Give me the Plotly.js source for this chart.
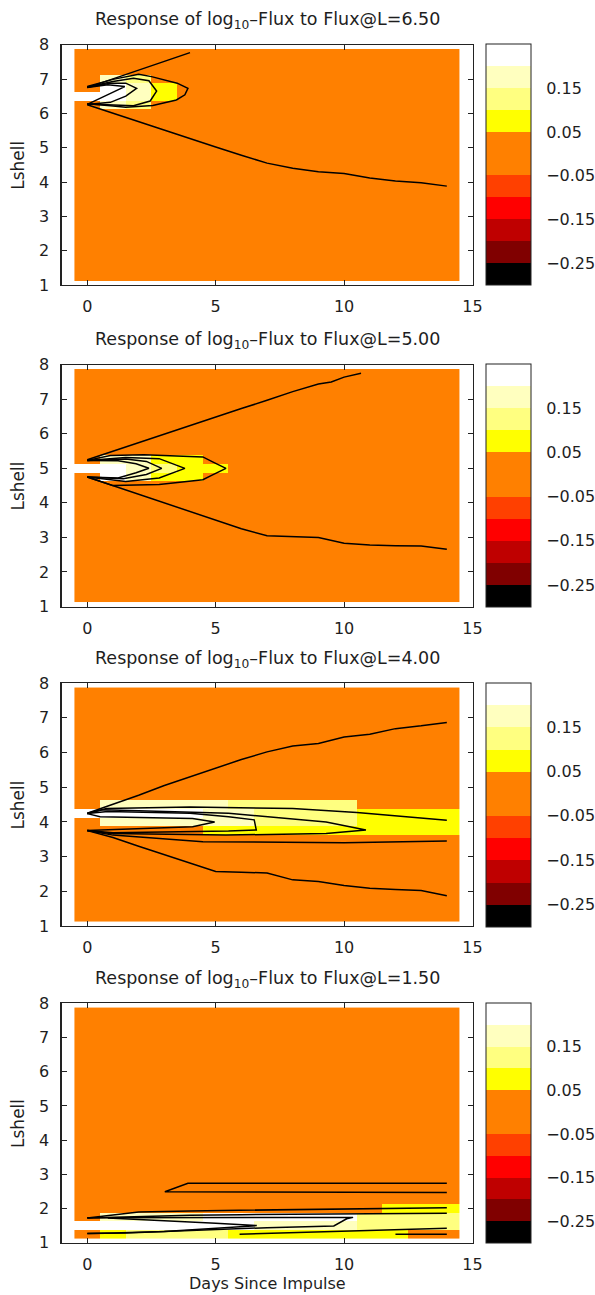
<!DOCTYPE html>
<html><head><meta charset="utf-8">
<script src="https://cdn.plot.ly/plotly-3.0.1.min.js"></script>
<style>html,body{margin:0;padding:0;background:#fff}</style>
</head><body><div id="chart" style="width:595px;height:1295px"></div>
<script>
// ---------------- DATA ----------------
const DAYS = [0,1,2,3,4,5,6,7,8,9,10,11,12,13,14];
const LSHELL = [1.25,1.5,1.75,2.0,2.25,2.5,2.75,3.0,3.25,3.5,3.75,4.0,4.25,4.5,4.75,5.0,5.25,5.5,5.75,6.0,6.25,6.5,6.75,7.0,7.25,7.5,7.75];
const IMPULSE_L = ['6.50','5.00','4.00','1.50'];
// colour levels (band centres) used in the grids below
const LEVEL_CODES = {o:0.0, y:0.075, l:0.125, c:0.175, w:0.225};
const CB_TICKVALS = [0.15,0.05,-0.05,-0.15,-0.25];
const CB_TICKTEXT = ['0.15','0.05','\u22120.05','\u22120.15','\u22120.25'];
const BAND_COLORS = ['#000000','#800000','#bf0000','#ff0000','#ff4000','#ff8000','#ff8000','#ffff00','#ffff80','#ffffbf','#ffffff'];

// grids: rows listed from L=7.75 (top) down to L=1.25 (bottom); columns = days 0..14
const p1Grid = [
'ooooooooooooooo','ooooooooooooooo','ooooooooooooooo',
'ocloooooooooooo', // 7.00
'owcyooooooooooo', // 6.75
'wwcyooooooooooo', // 6.50
'ocloooooooooooo', // 6.25
'ooooooooooooooo','ooooooooooooooo','ooooooooooooooo','ooooooooooooooo',
'ooooooooooooooo','ooooooooooooooo','ooooooooooooooo','ooooooooooooooo',
'ooooooooooooooo','ooooooooooooooo','ooooooooooooooo','ooooooooooooooo',
'ooooooooooooooo','ooooooooooooooo','ooooooooooooooo','ooooooooooooooo',
'ooooooooooooooo','ooooooooooooooo','ooooooooooooooo','ooooooooooooooo'];
const p2Grid = [
'ooooooooooooooo','ooooooooooooooo','ooooooooooooooo','ooooooooooooooo',
'ooooooooooooooo','ooooooooooooooo','ooooooooooooooo','ooooooooooooooo',
'ooooooooooooooo','ooooooooooooooo',
'occyyoooooooooo', // 5.25
'wwclyyooooooooo', // 5.00
'owcyyoooooooooo', // 4.75
'ooooooooooooooo','ooooooooooooooo','ooooooooooooooo','ooooooooooooooo',
'ooooooooooooooo','ooooooooooooooo','ooooooooooooooo','ooooooooooooooo',
'ooooooooooooooo','ooooooooooooooo','ooooooooooooooo','ooooooooooooooo',
'ooooooooooooooo','ooooooooooooooo'];
const p3Grid = [
'ooooooooooooooo','ooooooooooooooo','ooooooooooooooo','ooooooooooooooo',
'ooooooooooooooo','ooooooooooooooo','ooooooooooooooo','ooooooooooooooo',
'ooooooooooooooo','ooooooooooooooo','ooooooooooooooo','ooooooooooooooo',
'ooooooooooooooo',
'occcccllllloooo', // 4.25
'wwwwwccllllyyyy', // 4.00
'occccccllllyyyy', // 3.75
'oooooyyyyyyyyyy', // 3.50
'ooooooooooooooo','ooooooooooooooo','ooooooooooooooo','ooooooooooooooo',
'ooooooooooooooo','ooooooooooooooo','ooooooooooooooo','ooooooooooooooo',
'ooooooooooooooo','ooooooooooooooo'];
const p4Grid = [
'ooooooooooooooo','ooooooooooooooo','ooooooooooooooo','ooooooooooooooo',
'ooooooooooooooo','ooooooooooooooo','ooooooooooooooo','ooooooooooooooo',
'ooooooooooooooo','ooooooooooooooo','ooooooooooooooo','ooooooooooooooo',
'ooooooooooooooo','ooooooooooooooo','ooooooooooooooo','ooooooooooooooo',
'ooooooooooooooo','ooooooooooooooo','ooooooooooooooo','ooooooooooooooo',
'ooooooooooooooo','ooooooooooooooo','ooooooooooooooo',
'ooooooooooooyyy', // 2.00
'occccwwwwwwllll', // 1.75
'wwwwwwwccccllll', // 1.50
'oyllllyyyyyyyoo'];// 1.25

// contour lines (days, Lshell)
const p1FanUpX = [0,1,2,3,4],                 p1FanUpY = [6.75,7.0,7.25,7.5,7.77];
const p1FanLowX = [0,1,2,3,4,5,6,7,8,9,10,11,12,13,14];
const p1FanLowY = [6.25,6.0,5.76,5.5,5.26,5.02,4.78,4.55,4.4,4.3,4.25,4.12,4.03,3.98,3.88];
const p1C1X = [0,1,2,2.5,3.5,3.92,3.8,3.47,2.55,1.5,0.9,0], p1C1Y = [6.78,6.99,7.14,7.07,6.88,6.73,6.54,6.39,6.23,6.18,6.22,6.28];
const p1C2X = [0,1,1.8,2.4,2.7,2.45,1.8,1,0],  p1C2Y = [6.77,6.93,7.02,6.95,6.65,6.36,6.22,6.24,6.27];
const p1C3X = [0,0.9,1.5,1.92,1.5,0.9,0],      p1C3Y = [6.76,6.88,6.88,6.73,6.5,6.32,6.26];
const p1C4X = [0,0.8,1.46,0.8,0],              p1C4Y = [6.75,6.83,6.78,6.55,6.26];

const p2FanUpX = [0,1,2,3,4,5,6,7,8,9,9.5,10,10.66];
const p2FanUpY = [5.25,5.5,5.75,6.0,6.24,6.49,6.73,6.97,7.22,7.44,7.5,7.64,7.75];
const p2FanLowX = [0,1,2,3,4,5,6,7,8,9,10,11,12,13,14];
const p2FanLowY = [4.75,4.5,4.25,4.0,3.75,3.5,3.25,3.05,3.02,3.0,2.83,2.78,2.76,2.75,2.66];
const p2C1X = [0,0.9,2.2,4.5,4.9,5.4,4.9,4.5,2.8,1,0], p2C1Y = [5.23,5.37,5.39,5.33,5.18,5.0,4.82,4.67,4.53,4.5,4.75];
const p2C2X = [0,1.5,2.8,3.8,2.8,1.5,0],       p2C2Y = [5.23,5.31,5.28,5.0,4.72,4.62,4.75];
const p2C3X = [0,1.5,2.3,2.9,2.3,1.4,0],       p2C3Y = [5.23,5.27,5.2,5.0,4.82,4.7,4.75];
const p2C4X = [0,1.2,1.9,2.4,1.9,1.2,0],       p2C4Y = [5.23,5.22,5.13,5.0,4.87,4.72,4.75];

const p3FanUpX = [0,1,2,3,4,5,6,7,8,9,10,11,12,13,14];
const p3FanUpY = [4.25,4.5,4.77,5.05,5.3,5.54,5.8,6.02,6.19,6.26,6.45,6.53,6.69,6.77,6.87];
const p3FanLowX = [0,1,2,3,4,5,6,7,8,9,10,11,12,13,14];
const p3FanLowY = [3.75,3.55,3.3,3.05,2.8,2.57,2.55,2.53,2.33,2.28,2.17,2.09,2.05,2.02,1.87];
const p3BandTopX = [0,0.75,4,8,10.5,14],       p3BandTopY = [4.25,4.39,4.43,4.39,4.27,4.05];
const p3BandBotX = [0,1,4.5,10,14],            p3BandBotY = [3.75,3.62,3.43,3.40,3.45];
const p3C2X = [0,0.6,5.5,9.3,10.85,9.3,5.4,0.9,0], p3C2Y = [4.24,4.35,4.25,4.0,3.77,3.67,3.62,3.67,3.75];
const p3C3X = [0,0.8,4,5.5,6.5,6.58,5.5,4,1,0], p3C3Y = [4.24,4.3,4.25,4.15,4.06,3.77,3.74,3.72,3.69,3.75];
const p3C4X = [0,0.5,4.1,4.96,4.1,0.9,0],      p3C4Y = [4.24,4.15,4.1,4.0,3.86,3.79,3.75];

const p4PairX = [14,3.92,3.02,14],             p4PairY = [2.74,2.74,2.49,2.47];
const p4BandAX = [0,1,2,4,6,8,10,12,14],       p4BandAY = [1.72,1.8,1.9,1.93,1.95,1.97,1.99,2.0,2.02];
const p4BandBX = [0,1,2,4,6,8,10,12,14],       p4BandBY = [1.72,1.74,1.78,1.8,1.82,1.83,1.84,1.85,1.86];
const p4KinkX = [0,4,8,10.35,10.1,9.6,7,5,3,1.5,0], p4KinkY = [1.73,1.74,1.74,1.74,1.7,1.49,1.44,1.39,1.33,1.28,1.27];
const p4TipX = [0.8,3,5,6.6,5,3,1,0],          p4TipY = [1.72,1.65,1.57,1.5,1.42,1.33,1.28,1.27];
const p4Low1X = [5.93,14],                     p4Low1Y = [1.25,1.42];
const p4Low2X = [12,14],                       p4Low2Y = [1.25,1.25];

// ---------------- BUILD ----------------
const W = 595, H = 1295;
const FONT = 'DejaVu Sans, Verdana, sans-serif';
const TXT = '#1e1e1e';
const grids = [p1Grid, p2Grid, p3Grid, p4Grid];
const lines = [
  [[p1FanUpX,p1FanUpY],[p1FanLowX,p1FanLowY],[p1C1X,p1C1Y],[p1C2X,p1C2Y],[p1C3X,p1C3Y],[p1C4X,p1C4Y]],
  [[p2FanUpX,p2FanUpY],[p2FanLowX,p2FanLowY],[p2C1X,p2C1Y],[p2C2X,p2C2Y],[p2C3X,p2C3Y],[p2C4X,p2C4Y]],
  [[p3FanUpX,p3FanUpY],[p3FanLowX,p3FanLowY],[p3BandTopX,p3BandTopY],[p3BandBotX,p3BandBotY],[p3C2X,p3C2Y],[p3C3X,p3C3Y],[p3C4X,p3C4Y]],
  [[p4PairX,p4PairY],[p4BandAX,p4BandAY],[p4BandBX,p4BandBY],[p4KinkX,p4KinkY],[p4TipX,p4TipY],[p4Low1X,p4Low1Y],[p4Low2X,p4Low2Y]]
];
const colorscale = [];
BAND_COLORS.forEach((c,i)=>{ colorscale.push([i/11,c]); colorscale.push([(i+1)/11,c]); });

const topPx = [44.7, 364.7, 683.2, 1003.3];
const botPx = [285.0, 606.5, 926.0, 1242.7];
const xl = 61.7, xr = 473.3;

const data = [];
const layout = {
  width: W, height: H, margin:{l:0,r:0,t:0,b:0},
  paper_bgcolor:'#fff', plot_bgcolor:'#fff', showlegend:false,
  font:{family:FONT, color:TXT, size:16},
  annotations: []
};

for (let k=0;k<4;k++){
  const sfx = k===0 ? '' : String(k+1);
  const z = grids[k].slice().reverse().map(row => row.split('').map(ch => LEVEL_CODES[ch]));
  const yc = 1 - (topPx[k]+botPx[k])/2/H;
  data.push({
    type:'heatmap', x:DAYS, y:LSHELL, z:z, zmin:-0.3, zmax:0.25, zsmooth:false,
    colorscale:colorscale, xaxis:'x'+sfx, yaxis:'y'+sfx, hoverinfo:'skip',
    colorbar:{
      x:485.7/W, xanchor:'left', xpad:0, ypad:0,
      y:yc, yanchor:'middle', len:botPx[k]-topPx[k]+1, lenmode:'pixels',
      thickness:45, thicknessmode:'pixels',
      outlinecolor:'#222', outlinewidth:1,
      tickmode:'array', tickvals:CB_TICKVALS, ticktext:CB_TICKTEXT,
      ticks:'outside', ticklen:12, tickcolor:'rgba(0,0,0,0)',
      tickfont:{size:16, family:FONT, color:TXT}
    }
  });
  lines[k].forEach(([lx,ly]) => data.push({
    type:'scatter', mode:'lines', x:lx, y:ly, xaxis:'x'+sfx, yaxis:'y'+sfx,
    line:{color:'#000', width:1.5}, hoverinfo:'skip'
  }));
  layout['xaxis'+sfx] = {
    domain:[xl/W, xr/W], range:[-1,15], tickvals:[0,5,10,15],
    ticks:'inside', ticklen:5, tickcolor:'#222', mirror:'ticks', showline:true,
    linecolor:'#222', linewidth:1.2, showgrid:false, zeroline:false,
    anchor:'y'+sfx, tickfont:{size:16, family:FONT, color:TXT}, ticklabelstandoff:7, fixedrange:true
  };
  layout['yaxis'+sfx] = {
    domain:[1-botPx[k]/H, 1-topPx[k]/H], range:[1,8], tickvals:[1,2,3,4,5,6,7,8],
    ticks:'inside', ticklen:5, tickcolor:'#222', mirror:'ticks', showline:true,
    linecolor:'#222', linewidth:1.2, showgrid:false, zeroline:false,
    anchor:'x'+sfx, tickfont:{size:16, family:FONT, color:TXT}, ticklabelstandoff:8, fixedrange:true
  };
  layout.annotations.push({
    xref:'paper', yref:'paper', x:(xl+xr)/2/W, y:1-(topPx[k]-24)/H,
    xanchor:'center', yanchor:'middle', showarrow:false,
    text:'Response of log<sub>10</sub>\u2013Flux to Flux@L='+IMPULSE_L[k],
    font:{size:17.5, family:FONT, color:TXT}
  });
  layout.annotations.push({
    xref:'paper', yref:'paper', x:18/W, y:yc, xanchor:'center', yanchor:'middle',
    textangle:-90, showarrow:false, text:'Lshell', font:{size:17, family:FONT, color:TXT}
  });
}
layout.annotations.push({
  xref:'paper', yref:'paper', x:(xl+xr)/2/W, y:1-1283/H, xanchor:'center', yanchor:'middle',
  showarrow:false, text:'Days Since Impulse', font:{size:16, family:FONT, color:TXT}
});

Plotly.newPlot('chart', data, layout, {staticPlot:true, displayModeBar:false});
</script></body></html>
